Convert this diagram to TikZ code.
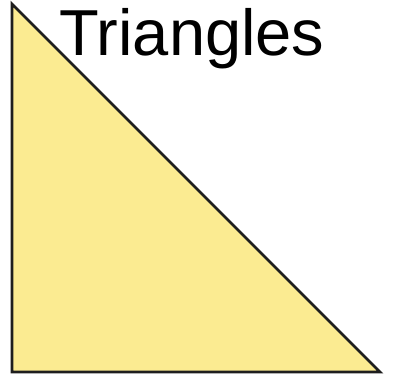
\documentclass[tikz,border=0pt]{standalone}
\usepackage{fontspec}
\setmainfont{Liberation Sans}
\definecolor{triyellow}{RGB}{251,235,145}
\definecolor{triedge}{RGB}{30,30,30}
\begin{document}
\begin{tikzpicture}[x=1pt,y=1pt,
  tri/.style={fill=triyellow,draw=triedge,line width=2.8pt,line join=miter},
  title/.style={font=\fontsize{65}{65}\selectfont,anchor=base,inner sep=0pt}]
\useasboundingbox (0,0) rectangle (393,380);
\coordinate (A) at (12,376);
\coordinate (B) at (12,8);
\coordinate (C) at (380,8);
\draw[tri] (A) -- (B) -- (C) -- cycle;
\node[title] (t) at (192,324) {Triangles};
\end{tikzpicture}
\end{document}
